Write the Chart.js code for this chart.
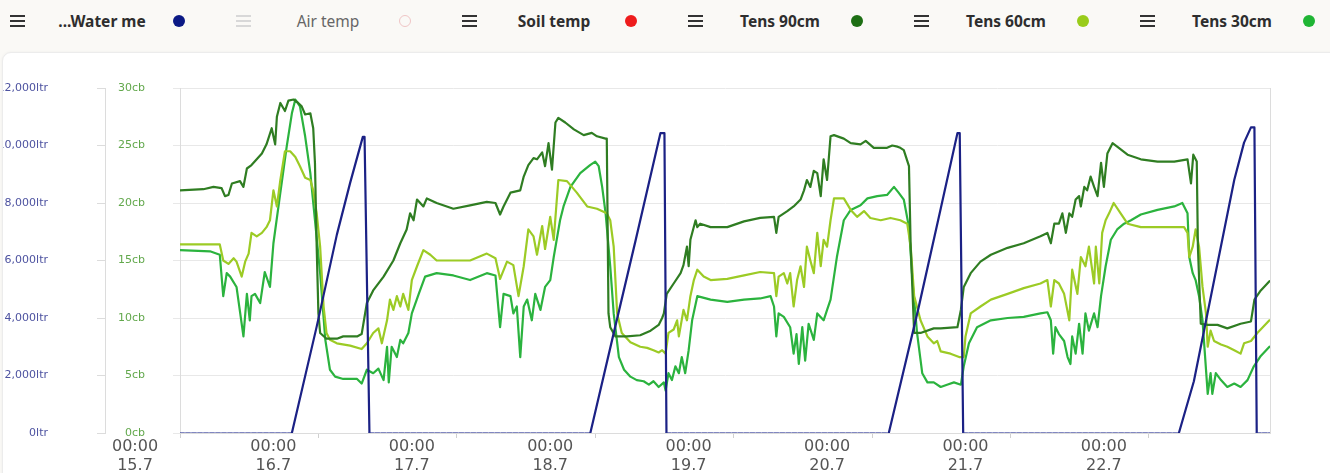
<!DOCTYPE html>
<html>
<head>
<meta charset="utf-8">
<script src="https://cdn.jsdelivr.net/npm/chart.js@4.4.1/dist/chart.umd.min.js"></script>
<style>
  html, body { margin: 0; padding: 0; }
  body {
    width: 1330px; height: 473px; overflow: hidden; position: relative;
    background: #faf9f6; font-family: 'Noto Sans', sans-serif;
  }
  #legend { position: absolute; left: 0; top: 0; width: 1330px; height: 44px; }
  .item { position: absolute; top: 0; width: 226px; height: 44px; }
  .menu {
    position: absolute; left: 10px; top: 15px; width: 15px; height: 12px; color: #333;
    background: linear-gradient(currentColor 0 2px, transparent 2px 5px, currentColor 5px 7px,
                transparent 7px 10px, currentColor 10px 12px);
  }
  .name {
    position: absolute; left: 42px; width: 120px; top: 10px; line-height: 22px;
    text-align: center; white-space: nowrap; font-size: 15.5px; font-weight: 700; color: #2e2e2e;
  }
  .dot { position: absolute; left: 173px; top: 15px; width: 12px; height: 12px; border-radius: 50%; box-sizing: border-box; }
  .item.off .menu { color: #d8d8d8; }
  .item.off .name { font-weight: 400; color: #666; }
  .item.off .dot { background: transparent !important; border: 1.5px solid #f0c6c6; }
  #card {
    position: absolute; left: 2px; top: 52px; width: 1340px; height: 430px;
    background: #fff; border: 1px solid #ececec; border-radius: 9px 0 0 0;
    overflow: hidden; box-shadow: 0 0 3px rgba(0,0,0,0.05);
  }
  #chart { position: absolute; left: -11px; top: 0; }
</style>
</head>
<body>
<div id="legend"></div>
<div id="card"><canvas id="chart" width="1338" height="420"></canvas></div>
<script>
// x axis: hours from the first day mark
const dayLabels = ['15.7', '16.7', '17.7', '18.7', '19.7', '20.7', '21.7', '22.7'];
const timeLabel = '00:00';
const hoursPerDay = 24;
const lastHour = 189;

// legend row
const legendNames = ['...Water me', 'Air temp', 'Soil temp', 'Tens 90cm', 'Tens 60cm', 'Tens 30cm'];
const legendColors = ['#0b1985', '#f0c6c6', '#ee1c1c', '#1d6f14', '#99cc1a', '#1fb534'];
const legendOn = [true, false, true, true, true, true];

// water meter (ltr)
const waterHours = [0, 19.4, 23.7, 27.2, 29.5, 31.7, 32.0, 32.85,
  71.15, 75.0, 79.0, 83.3, 84.0, 84.35,
  122.9, 128.0, 131.9, 134.8, 135.2, 135.8,
  173.2, 175.8, 178.2, 181.6, 182.8, 184.5, 185.7, 186.3, 186.7, 189];
const waterLtr = [0, 0, 3700, 6900, 8700, 10300, 10300, 0,
  0, 3300, 6700, 10430, 10430, 0,
  0, 4300, 7800, 10430, 10430, 0,
  0, 1800, 4200, 7600, 8800, 10100, 10630, 10630, 0, 0];

// tensiometer 90cm (cb)
const tens90Hours = [0, 4.05, 5.8, 7.2, 7.8, 8.4, 9.0, 10.4, 11.0, 11.6,
  12.4, 13.3, 14.2, 15.0, 15.9, 16.5, 16.8, 17.4, 18.2, 18.8,
  19.7, 20.5, 21.1, 21.7, 22.6, 23.1, 23.4, 23.7, 24.0, 24.3,
  25.4, 27.2, 28.3, 30.7, 31.5, 32.4, 33.5, 35.3, 37.0, 38.2,
  39.3, 39.9, 40.5, 41.1, 42.2, 42.8, 44.5, 47.4, 50.3, 53.2,
  54.7, 55.5, 56.1, 57.3, 59.0, 59.6, 60.4, 61.3, 61.9, 62.8,
  63.3, 63.9, 64.5, 65.1, 65.6, 66.8, 68.3, 70.0, 71.4, 72.3,
  73.8, 74.0, 74.3, 74.6, 75.5, 77.5, 79.8, 81.6, 83.0, 83.6,
  83.9, 84.4, 85.6, 86.8, 87.3, 87.9, 88.2, 88.5, 89.4, 89.7,
  90.2, 92.0, 94.9, 97.8, 100.6, 103.0, 103.4, 103.8, 105.3, 106.4,
  107.6, 108.2, 108.7, 109.3, 109.9, 110.5, 111.1, 111.6, 112.2, 112.8,
  113.4, 115.1, 116.3, 118.0, 118.9, 120.3, 122.6, 123.5, 124.4, 124.9,
  125.5, 126.4, 126.7, 127.3, 128.4, 130.7, 131.9, 134.8, 135.4, 135.9,
  137.1, 138.8, 140.6, 143.5, 146.3, 149.2, 150.4, 151.0, 151.6, 152.4,
  153.0, 153.6, 154.2, 154.7, 155.3, 155.9, 156.2, 156.8, 157.3, 157.9,
  158.5, 159.1, 159.7, 160.2, 160.8, 161.7, 162.5, 164.3, 166.6, 169.5,
  172.4, 174.7, 175.3, 175.7, 176.3, 176.5, 177.0, 178.2, 179.9, 181.6,
  183.9, 185.7, 186.3, 187.4, 188.9];
const tens90Cb = [21.1, 21.2, 21.4, 21.3, 20.6, 20.7, 21.7, 21.9, 21.4, 23.0,
  23.3, 23.8, 24.3, 25.1, 26.5, 25.1, 27.5, 28.7, 28.0, 28.9,
  29.0, 28.7, 28.4, 27.7, 27.8, 26.5, 23.5, 16.2, 10.4, 8.7,
  8.2, 8.2, 8.4, 8.4, 8.6, 11.3, 12.4, 13.6, 15.0, 16.5,
  17.7, 19.1, 18.5, 20.3, 19.7, 20.4, 20.0, 19.5, 19.8, 20.1,
  20.0, 19.0, 19.7, 20.9, 21.1, 22.3, 23.3, 23.9, 23.8, 24.4,
  23.2, 25.2, 22.9, 27.0, 27.4, 27.0, 26.4, 25.9, 26.1, 25.8,
  25.6, 25.6, 10.4, 9.2, 8.4, 8.4, 8.5, 8.9, 9.4, 10.0,
  10.4, 12.1, 13.0, 13.9, 14.6, 16.2, 14.5, 16.8, 18.5, 17.9,
  18.2, 17.9, 17.9, 18.4, 18.7, 18.8, 17.4, 18.8, 19.3, 19.7,
  20.3, 21.1, 22.0, 21.4, 22.8, 22.6, 20.6, 23.8, 22.0, 25.8,
  25.9, 25.6, 25.2, 25.1, 25.4, 24.8, 24.8, 25.0, 24.9, 24.8,
  24.6, 23.2, 16.2, 8.7, 8.7, 9.1, 9.1, 9.2, 10.7, 12.7,
  13.9, 14.9, 15.5, 16.1, 16.5, 17.1, 17.4, 16.5, 18.2, 18.2,
  19.1, 17.4, 19.1, 18.8, 20.3, 20.6, 19.7, 21.4, 21.1, 22.3,
  21.4, 20.6, 23.5, 21.4, 24.3, 25.2, 24.9, 24.2, 23.8, 23.6,
  23.6, 23.8, 21.7, 24.2, 23.6, 16.2, 9.5, 9.4, 9.4, 9.1,
  9.5, 9.7, 11.6, 12.4, 13.2];

// tensiometer 60cm (cb)
const tens60Hours = [0, 6.9, 7.5, 8.4, 9.3, 9.8, 10.7, 11.3, 11.9, 12.4,
  13.3, 14.2, 15.0, 15.6, 16.2, 16.8, 17.4, 18.2, 19.1, 20.0,
  20.8, 21.7, 22.6, 23.1, 23.7, 24.3, 24.9, 25.4, 26.0, 27.2,
  29.5, 31.5, 32.4, 33.5, 34.4, 35.0, 35.9, 36.4, 37.0, 37.6,
  38.2, 38.7, 39.6, 40.2, 41.1, 42.2, 43.4, 44.5, 47.4, 50.3,
  53.2, 54.7, 55.5, 56.7, 57.8, 58.7, 59.6, 60.4, 61.3, 61.9,
  62.8, 63.3, 64.2, 64.8, 65.6,
  67.1, 68.8, 70.6, 72.3, 74.0, 74.6, 75.2, 75.8, 76.6, 78.1,
  79.8, 81.0, 82.1, 83.0, 83.6, 84.2, 84.7, 85.6, 86.2, 86.5,
  87.3, 87.9, 88.5, 89.1, 89.7, 90.8, 92.0, 94.9, 97.8, 100.6,
  103.0, 103.4, 103.8, 104.7, 105.3, 105.8, 106.4, 107.0, 107.6, 108.2,
  108.7, 109.3, 109.9, 110.5, 111.1, 111.6, 112.2, 112.8, 113.4, 115.1,
  116.3, 117.4, 118.6, 119.7, 121.5, 123.2, 124.9, 126.1, 126.7, 127.3,
  128.4, 129.6, 130.7, 131.3,
  131.9, 133.6, 135.1, 135.9, 136.2, 137.1, 138.8, 140.6, 143.5, 146.3,
  149.2, 150.4, 151.0, 151.6, 152.4, 153.3, 154.2, 154.7, 155.6, 156.2,
  157.0, 157.6, 158.5, 158.8, 159.4, 159.9, 160.5, 161.1, 161.9, 163.1,
  164.3, 166.6, 169.5, 172.4, 174.1, 174.7, 175.0, 175.6, 176.1, 176.7,
  177.3, 177.9, 178.2, 178.7, 179.3, 180.5, 181.6, 182.8, 183.9, 184.5,
  185.7, 186.8, 188.9];
const tens60Cb = [16.4, 16.4, 15.0, 14.7, 15.2, 14.9, 13.6, 14.9, 15.6, 17.4,
  17.1, 17.4, 17.9, 18.5, 21.1, 19.7, 22.0, 24.5, 24.5, 24.0,
  23.2, 22.2, 22.0, 21.1, 19.1, 16.2, 11.0, 8.7, 8.1, 7.8,
  7.6, 7.3, 7.8, 8.7, 9.1, 7.8, 9.8, 11.6, 10.7, 11.9,
  11.0, 12.1, 10.7, 13.3, 14.5, 15.9, 15.5, 15.0, 15.0, 15.0,
  15.6, 15.2, 13.4, 14.9, 14.6, 11.9, 14.5, 17.7, 17.1, 15.5,
  18.0, 16.0, 18.8, 16.8, 22.0,
  21.9, 20.9, 19.7, 19.5, 19.1, 18.5, 16.2, 10.4, 8.7, 7.9,
  7.5, 7.4, 7.2, 7.0, 7.2, 6.9, 8.7, 9.0, 9.8, 8.4,
  10.7, 9.8, 11.9, 13.3, 14.2, 13.6, 13.3, 13.4, 13.7, 14.0,
  13.9, 11.9, 13.6, 13.9, 13.0, 13.9, 11.0, 13.3, 14.5, 12.7,
  16.2, 15.0, 13.9, 17.4, 14.5, 16.8, 16.2, 18.5, 20.4, 20.4,
  19.4, 18.8, 19.3, 18.7, 18.5, 18.7, 18.5, 18.2, 16.2, 11.9,
  9.8, 8.4, 7.8, 8.0,
  7.1, 6.9, 6.6, 6.6, 8.4, 10.4, 11.0, 11.6, 12.1, 12.6,
  13.0, 13.3, 11.0, 13.3, 13.0, 12.1, 9.8, 14.2, 12.1, 15.3,
  14.5, 16.2, 13.0, 16.2, 13.0, 17.4, 18.5, 19.1, 20.0, 19.1,
  18.2, 17.9, 17.9, 17.9, 17.9, 17.4, 15.3, 16.2, 17.7, 16.2,
  12.7, 10.4, 7.5, 8.9, 8.0, 7.7, 7.5, 7.2, 6.9, 7.8,
  8.0, 8.7, 9.8];

// tensiometer 30cm (cb)
const tens30Hours = [0, 5.2, 6.9, 7.5, 8.1, 8.7, 9.8, 11.0, 11.6, 12.1,
  12.4, 13.0, 13.9, 14.7, 15.6, 16.2, 17.4, 18.5, 19.4, 20.0,
  20.8, 21.7, 22.6, 23.4, 24.3, 25.2, 26.0, 26.9, 28.3, 30.7,
  31.5, 32.4, 33.5, 34.4, 35.3, 35.9, 36.2, 36.7, 37.6, 38.2,
  38.7, 39.6, 40.2, 41.4, 42.5, 44.5, 47.4, 50.3, 53.2, 54.7,
  55.5, 56.1, 57.3, 57.8, 58.4, 59.0, 59.6, 60.2, 61.0, 61.6,
  62.5, 63.3, 64.2, 64.8, 65.9,
  66.5, 67.7, 69.4, 71.1, 72.0, 72.6, 73.2, 73.8, 74.6, 75.2,
  76.1, 77.0, 78.1, 79.2, 80.4, 81.3, 82.1, 83.0, 83.9, 84.2,
  84.7, 85.3, 85.9, 86.5, 87.0, 87.6, 88.2, 88.8, 89.7, 92.0,
  94.9, 97.8, 100.6, 102.4, 103.0, 103.4, 103.8, 104.7, 105.8, 106.4,
  106.9, 107.3, 107.9, 108.4, 109.0, 109.9, 110.5, 111.6, 112.2, 112.8,
  113.9, 115.1, 116.3, 118.0, 119.2, 120.9, 122.6, 123.8, 124.6, 125.5,
  126.4, 127.0, 127.8, 128.7, 129.6, 130.7,
  131.9, 133.0, 134.2, 135.4, 135.9, 136.8, 138.2, 140.6, 143.5, 146.3,
  149.2, 150.4, 151.0, 151.4, 151.8, 152.4, 153.3, 153.9, 154.4, 154.7,
  155.3, 155.9, 156.5, 157.0, 157.6, 158.5, 159.1, 159.7, 160.5, 161.4,
  162.5, 163.7, 164.9, 166.6, 169.5, 172.4, 173.8, 174.7, 175.0, 175.6,
  176.1, 176.7, 177.3, 178.2, 178.7, 179.0, 179.6, 180.5, 181.6, 182.8,
  183.9, 185.1, 186.2, 187.4, 188.9];
const tens30Cb = [15.9, 15.8, 15.5, 11.9, 13.9, 13.6, 12.7, 8.4, 12.1, 9.8,
  11.9, 12.1, 11.3, 14.0, 12.7, 16.5, 20.9, 24.9, 27.8, 29.0,
  28.4, 25.8, 22.6, 18.5, 13.9, 8.1, 5.5, 4.9, 4.7, 4.7,
  4.3, 5.5, 5.2, 5.6, 4.6, 7.5, 4.4, 7.5, 6.6, 8.1,
  7.8, 8.7, 10.4, 12.1, 13.6, 13.9, 13.7, 13.3, 13.9, 13.7,
  9.2, 12.1, 11.9, 10.4, 11.0, 6.6, 11.0, 11.6, 9.8, 12.1,
  10.7, 12.7, 13.3, 15.3, 18.5,
  19.7, 21.4, 22.6, 23.3, 23.6, 23.2, 21.4, 19.1, 14.5, 10.4,
  6.6, 5.5, 4.9, 4.6, 4.5, 4.2, 4.5, 4.0, 4.4, 3.7,
  5.2, 4.6, 5.8, 5.2, 6.6, 5.2, 7.2, 9.8, 11.9, 11.6,
  11.4, 11.6, 11.7, 11.9, 11.0, 8.4, 10.4, 10.1, 9.2, 6.9,
  8.6, 6.0, 9.2, 6.3, 9.5, 8.1, 10.4, 9.8, 10.7, 11.6,
  15.3, 18.5, 19.4, 19.8, 20.4, 20.6, 20.7, 21.4, 20.9, 20.3,
  17.9, 13.3, 8.7, 5.2, 4.4, 4.4,
  4.0, 4.2, 4.4, 4.2, 5.8, 7.8, 9.2, 9.8, 10.0, 10.1,
  10.4, 10.5, 9.8, 6.9, 9.2, 8.6, 8.0, 6.6, 6.0, 8.4,
  6.9, 9.5, 6.9, 10.4, 8.9, 10.4, 9.2, 11.9, 14.5, 16.8,
  17.7, 18.2, 18.5, 19.0, 19.4, 19.7, 20.0, 19.1, 15.3, 13.9,
  13.3, 11.9, 9.8, 3.4, 5.2, 3.4, 5.2, 4.6, 4.0, 4.3,
  4.0, 4.6, 5.8, 6.7, 7.5];

// legend row
const legendBox = document.getElementById('legend');
legendNames.forEach((name, i) => {
  const item = document.createElement('div');
  item.className = 'item' + (legendOn[i] ? '' : ' off');
  item.style.left = (i * 226) + 'px';
  item.innerHTML = '<span class="menu"></span><span class="name"></span><span class="dot"></span>';
  item.querySelector('.name').textContent = name;
  item.querySelector('.dot').style.background = legendColors[i];
  legendBox.appendChild(item);
});

function points(hours, values) {
  return hours.map((h, i) => ({ x: h, y: values[i] }));
}
const flatZero = c => c.p0.parsed.y === 0 && c.p1.parsed.y === 0;

// fixed axis width; label padding must not push the plot down
const fixWidth = w => s => { s.width = w; s.paddingTop = 0; s.paddingBottom = 0; };

Chart.defaults.font.family = "'DejaVu Sans', sans-serif";

const lineStyle = { pointRadius: 0, borderWidth: 2.2, tension: 0, borderJoinStyle: 'round', borderCapStyle: 'round' };

new Chart(document.getElementById('chart'), {
  type: 'line',
  data: {
    datasets: [
      Object.assign({
        label: legendNames[0], data: points(waterHours, waterLtr), yAxisID: 'yLtr',
        borderColor: '#1b2185',
        segment: {
          borderDash: c => flatZero(c) ? [4, 2] : undefined,
          borderColor: c => flatZero(c) ? 'rgba(45,55,150,0.6)' : undefined
        }
      }, lineStyle),
      Object.assign({ label: legendNames[3], data: points(tens90Hours, tens90Cb), yAxisID: 'yCb', borderColor: '#2f7d22' }, lineStyle),
      Object.assign({ label: legendNames[4], data: points(tens60Hours, tens60Cb), yAxisID: 'yCb', borderColor: '#9ccb25' }, lineStyle),
      Object.assign({ label: legendNames[5], data: points(tens30Hours, tens30Cb), yAxisID: 'yCb', borderColor: '#2bb33e' }, lineStyle)
    ]
  },
  options: {
    responsive: false,
    animation: false,
    layout: { padding: { top: 35, right: 60, left: 0, bottom: 0 } },
    plugins: { legend: { display: false }, tooltip: { enabled: false } },
    scales: {
      x: {
        type: 'linear', min: 0, max: lastHour,
        afterBuildTicks: s => { s.ticks = dayLabels.map((d, i) => ({ value: i * hoursPerDay })); },
        afterFit: s => { s.height = 40; },
        ticks: {
          autoSkip: false, maxRotation: 0, padding: 0, labelOffset: -45,
          color: '#555', font: { size: 16, lineHeight: 1.15 },
          callback: v => [timeLabel, dayLabels[Math.round(v / hoursPerDay)]]
        },
        grid: { drawOnChartArea: false, tickLength: 5, color: '#d0d0d0' },
        border: { color: '#dcdcdc' }
      },
      yLtr: {
        position: 'left', weight: 2, min: 0, max: 12000,
        afterFit: fixWidth(113),
        ticks: { stepSize: 2000, padding: 49, color: '#4d52a0', font: { size: 11 },
                 callback: v => v.toLocaleString('en-US') + 'ltr' },
        grid: { drawOnChartArea: false, tickLength: 8, color: '#dcdcdc' },
        border: { color: '#dcdcdc' }
      },
      yCb: {
        position: 'left', weight: 1, min: 0, max: 30,
        afterFit: fixWidth(75),
        ticks: { stepSize: 5, padding: 28, color: '#62a84c', font: { size: 11 }, callback: v => v + 'cb' },
        grid: { color: '#e8e8e8', tickLength: 7 },
        border: { color: '#dcdcdc' }
      },
      yEdge: {
        position: 'right', min: 0, max: 30,
        afterFit: fixWidth(0),
        ticks: { display: false }, grid: { display: false },
        border: { color: '#dcdcdc' }
      }
    }
  }
});
</script>
</body>
</html>
